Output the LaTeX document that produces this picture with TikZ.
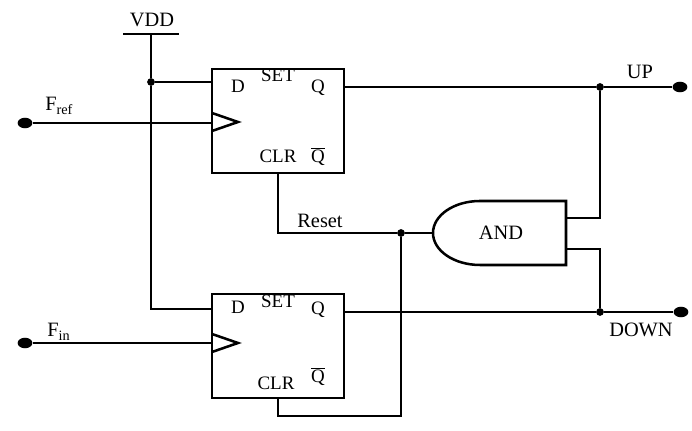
\documentclass[tikz,border=0pt]{standalone}
\usepackage{fontspec}
\setmainfont{Liberation Serif}
\usetikzlibrary{shapes.geometric}

\begin{document}
\begin{tikzpicture}[x = 0.025cm, y = 0.025cm,
	wire/.style = {line width=1.4pt},
	body/.style = {line width=1.8pt},
	ffbox/.style = {draw, body, minimum width=3.3cm, minimum height=2.6cm, inner sep=0pt},
	pinlbl/.style = {font=\fontsize{13.5}{13.5}\selectfont, inner sep=0pt, anchor=base},
	lbl/.style = {font=\fontsize{14.5}{14.5}\selectfont, inner sep=0pt, anchor=base},
	jdot/.style = {circle, fill, inner sep=0pt, minimum size=5.5pt},
	term/.style = {ellipse, fill, inner sep=0pt, minimum width=10.5pt, minimum height=7.5pt}]
	\useasboundingbox (0,0) rectangle (692,431);
	% flip-flops
	\node[ffbox] (ffup) at (278,310) {};
	\node[ffbox] (ffdn) at (278,85) {};
	\node[pinlbl] (dup) at (238,338) {D};
	\node[pinlbl] (setup) at (278,349) {SET};
	\node[pinlbl] (qup) at (318,338) {Q};
	\node[pinlbl] (clrup) at (278,268) {CLR};
	\node[pinlbl] (nqup) at (318,268) {$\overline{\hbox{Q}}$};
	\node[pinlbl] (ddn) at (238,117) {D};
	\node[pinlbl] (setdn) at (278,123) {SET};
	\node[pinlbl] (qdn) at (318,116) {Q};
	\node[pinlbl] (clrdn) at (276,41) {CLR};
	\node[pinlbl] (nqdn) at (318,48) {$\overline{\hbox{Q}}$};
	\draw[body] (212,318) -- (238,309) -- (212,300);
	\draw[body] (212,97) -- (238,88) -- (212,79);
	% AND gate
	\draw[body] (566,230) -- (480,230) arc[start angle=90, end angle=270, x radius=47, y radius=32] -- (566,166) -- cycle;
	\node[lbl, anchor=center] (and) at (501,198) {AND};
	\coordinate (aout) at (433,198);
	\coordinate (ain1) at (566,213);
	\coordinate (ain2) at (566,182);
	% supply
	\node[lbl] (vdd) at (152,404) {VDD};
	\coordinate (vddtop) at (151,397);
	\draw[body] (123,397) -- (179,397);
	\node[jdot] (jd) at (151,349) {};
	\coordinate (vddbot) at (151,122);
	% terminals and junctions
	\node[term] (fref) at (25,308) {};
	\node[term] (fin) at (25,88) {};
	\node[term] (up) at (680,344) {};
	\node[term] (down) at (681,119) {};
	\node[jdot] (jup) at (600,344) {};
	\node[jdot] (jdn) at (600,119) {};
	\node[jdot] (jr) at (401,198) {};
	\coordinate (rb) at (278,15);
	\node[lbl, anchor=base west] (lfref) at (45,320) {F\textsubscript{ref}};
	\node[lbl, anchor=base west] (lfin) at (47,94) {F\textsubscript{in}};
	\node[lbl] (lup) at (640,352) {UP};
	\node[lbl] (ldown) at (641,94) {DOWN};
	\node[lbl] (lreset) at (320,203) {Reset};
	% wires
	\draw[wire] (vddtop) -- (jd) -- (vddbot) -- (ffdn.west |- vddbot);
	\draw[wire] (jd) -- (ffup.west |- jd);
	\draw[wire] (fref) -- (ffup.west |- fref);
	\draw[wire] (fin) -- (ffdn.west |- fin);
	\draw[wire] (ffup.east |- up) -- (jup) -- (up);
	\draw[wire] (ffdn.east |- down) -- (jdn) -- (down);
	\draw[wire] (ffup.south) -- (ffup.south |- jr) -- (jr) -- (aout);
	\draw[wire] (ffdn.south) -- (rb) -| (jr);
	\draw[wire] (ain1) -- (ain1 -| jup) -- (jup);
	\draw[wire] (ain2) -- (ain2 -| jdn) -- (jdn);
\end{tikzpicture}
\end{document}
